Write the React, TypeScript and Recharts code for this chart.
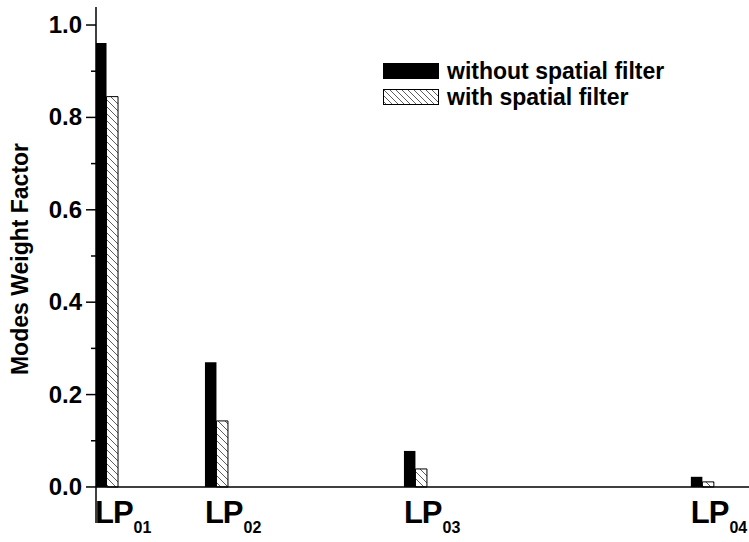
import React from 'react';
import { BarChart, Bar, XAxis, YAxis, ReferenceLine } from 'recharts';

// Mode labels (subscript indices) and their positions along the horizontal axis
const modes = ['01', '02', '03', '04'];
const modePositions = [1, 2, 3.81, 6.42];

// Modes weight factor for each mode
const withoutFilter = [0.961, 0.27, 0.078, 0.022];
const withFilter = [0.845, 0.143, 0.039, 0.011];

const majorTicks = [0, 0.2, 0.4, 0.6, 0.8, 1.0];
const minorTicks = [0.1, 0.3, 0.5, 0.7, 0.9];

const seriesNames = ['without spatial filter', 'with spatial filter'];

const data = modes.map((m, i) => ({
  mode: m,
  x: modePositions[i],
  without: withoutFilter[i],
  with: withFilter[i],
}));

const FONT = '"Liberation Sans", Arial, Helvetica, sans-serif';

const YTick = (props: any) => {
  const { x, y, payload } = props;
  const v = payload.value as number;
  const isMajor = majorTicks.some((t) => Math.abs(t - v) < 1e-6);
  const lineRight = x + 14;
  return (
    <g>
      <line
        x1={isMajor ? lineRight - 10 : lineRight - 5}
        x2={lineRight}
        y1={y}
        y2={y}
        stroke="#000"
        strokeWidth={1.5}
      />
      {isMajor && (
        <text
          x={x}
          y={y}
          dy={8}
          textAnchor="end"
          fontFamily={FONT}
          fontWeight="bold"
          fontSize={24}
          fill="#000"
        >
          {v.toFixed(1)}
        </text>
      )}
    </g>
  );
};

const XTick = (props: any) => {
  const { x, y, payload } = props;
  const idx = modePositions.findIndex((p) => Math.abs(p - payload.value) < 1e-6);
  const sub = idx >= 0 ? modes[idx] : '';
  return (
    <text x={x - 12} y={y} fontFamily={FONT} fontWeight="bold" fill="#000">
      <tspan fontSize={31} letterSpacing={-1}>LP</tspan>
      <tspan fontSize={16} dx={1} dy={10}>
        {sub}
      </tspan>
    </text>
  );
};

// Legend box drawn over the plot area
const ChartLegend = () => (
  <div
    style={{
      position: 'absolute',
      left: 383,
      top: 58,
      fontFamily: FONT,
      fontWeight: 'bold',
      fontSize: 23,
      color: '#000',
      lineHeight: '26px',
    }}
  >
    <div style={{ display: 'flex', alignItems: 'center', height: 26 }}>
      <svg width={60} height={17} style={{ marginRight: 4 }}>
        <rect x={0} y={0} width={56} height={16} fill="#000" />
      </svg>
      <span>{seriesNames[0]}</span>
    </div>
    <div style={{ display: 'flex', alignItems: 'center', height: 26 }}>
      <svg width={60} height={17} style={{ marginRight: 4 }}>
        <defs>
          <pattern id="hatchLegend" patternUnits="userSpaceOnUse" width={6} height={6}>
            <line x1={-1} y1={-1} x2={7} y2={7} stroke="#333" strokeWidth={0.8} />
          </pattern>
        </defs>
        <rect x={0.5} y={0.5} width={55} height={15} fill="url(#hatchLegend)" stroke="#000" strokeWidth={1} />
      </svg>
      <span>{seriesNames[1]}</span>
    </div>
  </div>
);

export default function App() {
  return (
    <div style={{ position: 'absolute', left: 0, top: 0, width: 749, height: 542, background: '#fff' }}>
      <BarChart
        width={749}
        height={542}
        data={data}
        margin={{ top: 7, right: 0, bottom: 0, left: 0 }}
        barGap={0}
      >
        <defs>
          <pattern id="hatchBar" patternUnits="userSpaceOnUse" width={7} height={7}>
            <line x1={-1} y1={-1} x2={8} y2={8} stroke="#333" strokeWidth={0.8} />
          </pattern>
        </defs>
        <XAxis
          dataKey="x"
          type="number"
          domain={[0.9, 6.84]}
          ticks={modePositions}
          allowDataOverflow
          axisLine={false}
          tickLine={false}
          tickSize={0}
          tickMargin={0}
          height={19}
          tick={<XTick />}
          interval={0}
        />
        <YAxis
          type="number"
          domain={[-0.078, 1.039]}
          ticks={[...majorTicks, ...minorTicks].sort((a, b) => a - b)}
          allowDataOverflow
          width={96}
          tickSize={10}
          tickMargin={4}
          tickLine={false}
          axisLine={{ stroke: '#000', strokeWidth: 1.5 }}
          tick={<YTick />}
          interval={0}
          label={{
            value: 'Modes Weight Factor',
            angle: -90,
            position: 'insideLeft',
            offset: 0,
            dx: 20,
            dy: -6,
            style: {
              fontFamily: FONT,
              fontWeight: 'bold',
              fontSize: 23,
              fill: '#000',
              textAnchor: 'middle',
            },
          }}
        />
        <ReferenceLine y={0} stroke="#000" strokeWidth={1.5} />
        <Bar
          dataKey="without"
          name={seriesNames[0]}
          fill="#000"
          barSize={11.5}
          isAnimationActive={false}
        />
        <Bar
          dataKey="with"
          name={seriesNames[1]}
          fill="url(#hatchBar)"
          stroke="#000"
          strokeWidth={1}
          barSize={11.5}
          isAnimationActive={false}
        />
      </BarChart>
      <ChartLegend />
    </div>
  );
}
